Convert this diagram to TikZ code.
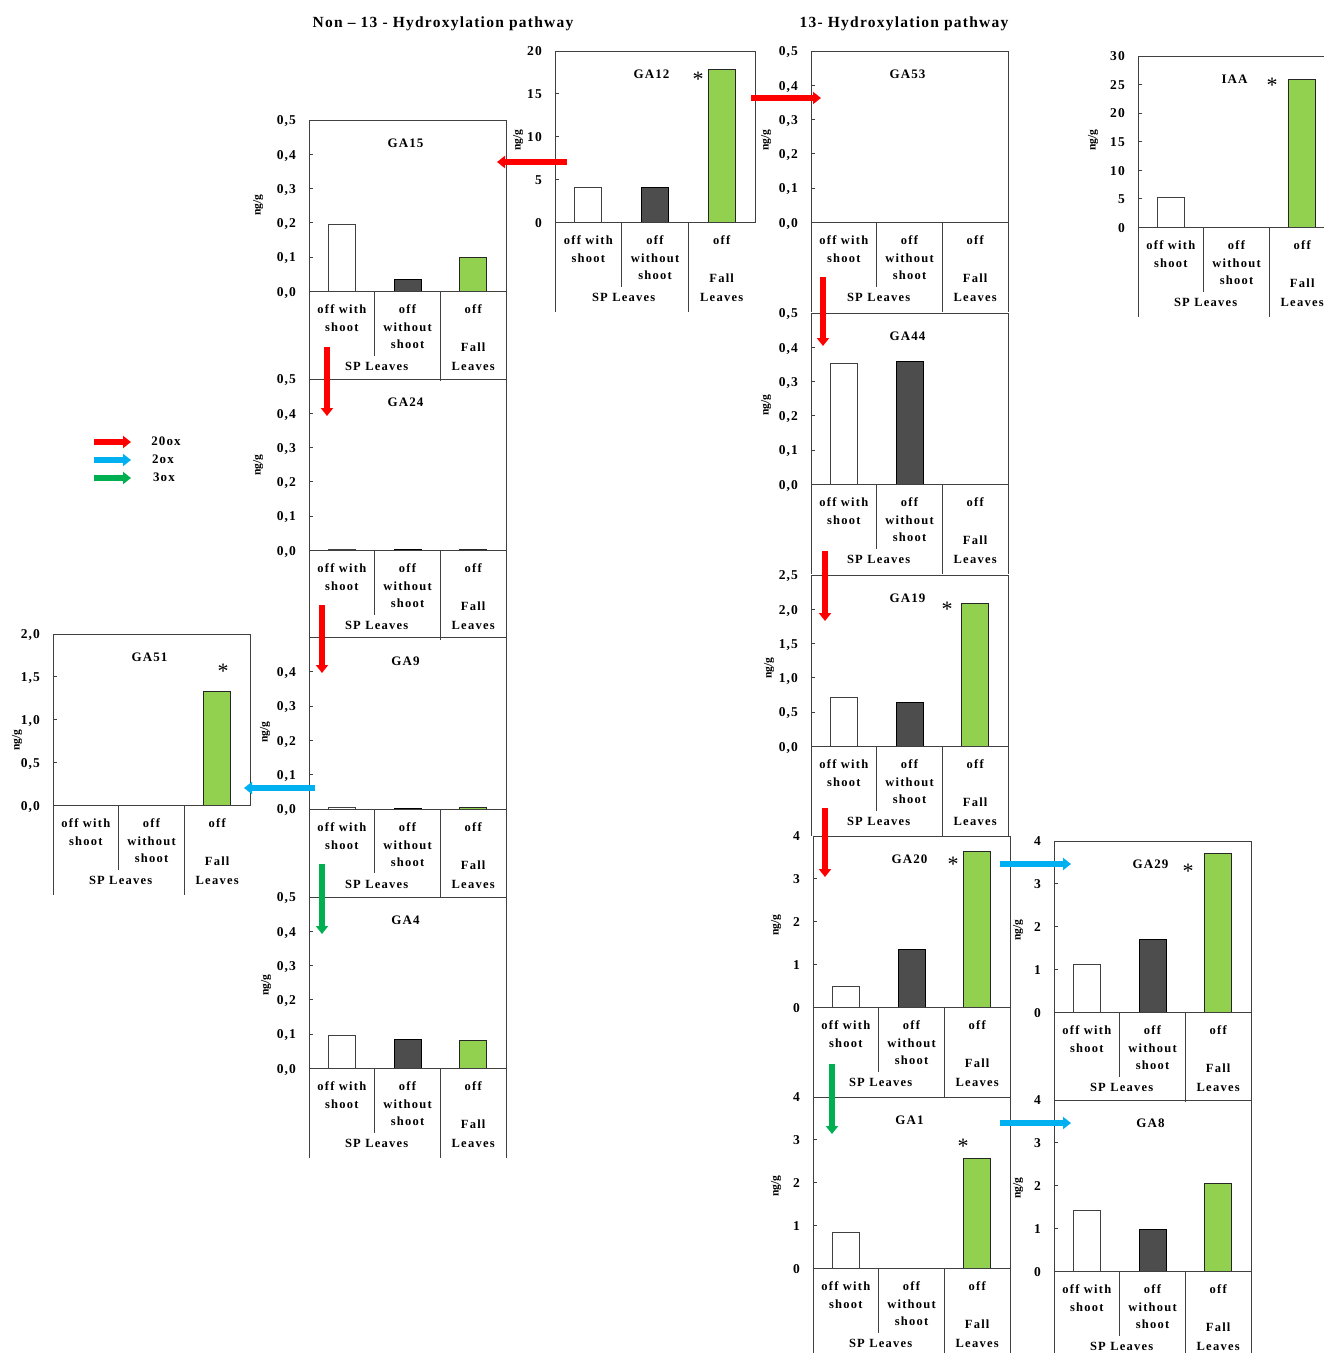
\documentclass[tikz,border=0pt]{standalone}
\usepackage{fontspec}
\setmainfont{Liberation Serif}
\newfontfamily\lsA{Liberation Serif}[LetterSpace=10,Ligatures=NoCommon]
\newfontfamily\lsB{Liberation Serif}[LetterSpace=8,Ligatures=NoCommon]
\usetikzlibrary{arrows.meta}
\definecolor{gagreen}{HTML}{92D050}
\definecolor{gadark}{HTML}{4D4D4D}
\definecolor{arrred}{HTML}{FF0000}
\definecolor{arrblue}{HTML}{00B0F0}
\definecolor{arrgreen}{HTML}{00B050}
\definecolor{frm}{HTML}{404040}
\tikzset{
 frame/.style={draw=frm, line width=1pt},
 cat/.style={font=\lsA\bfseries\fontsize{12.5}{13}\selectfont, inner sep=0pt},
 ticklab/.style={font=\lsB\bfseries\fontsize{13.5}{14}\selectfont, inner sep=0pt, anchor=base east},
 gatitle/.style={font=\lsB\bfseries\fontsize{13}{14}\selectfont, inner sep=0pt},
 unitlab/.style={font=\bfseries\fontsize{11.5}{12}\selectfont, inner sep=0pt, rotate=90},
 star/.style={font=\fontsize{22}{22}\selectfont, inner sep=0pt, anchor=north},
 barw/.style={fill=white, draw=frm, line width=0.8pt},
 bard/.style={fill=gadark, draw=black, line width=0.8pt},
 barg/.style={fill=gagreen, draw=black!85, line width=0.8pt},
 fat/.style={line width=5.5pt, -{Triangle[width=12pt,length=8pt]}},
 header/.style={font=\lsB\bfseries\fontsize{15.5}{16}\selectfont, inner sep=0pt, anchor=base},
 legtext/.style={font=\lsB\bfseries\fontsize{13}{14}\selectfont, inner sep=0pt},
}
\newif\ifgaright \garighttrue
\def\gaW{197}
\def\gaH{171.5}
\def\gaT{89}
\newcommand\gabar[3]{%
  \pgfmathsetmacro\gabh{#2}%
  \ifdim\gabh pt>0.01pt
    \draw[#3] ({#1-13.5},\gaH) rectangle ({#1+13.5},{\gaH-\gabh});
  \fi}
\newcommand\gachart[9]{%
 \begin{scope}[shift={(#2,#3)}]
  \gabar{\gaW/6}{#7/#6*\gaH}{barw}
  \gabar{\gaW/2}{#8/#6*\gaH}{bard}
  \gabar{5*\gaW/6}{#9/#6*\gaH}{barg}
  \draw[frame] (0,0) rectangle (\gaW,\gaH);
  \coordinate (#1) at ({\gaW/2},{\gaH/2});
  \draw[frame] (0,\gaH) -- (0,{\gaH+\gaT});
  \draw[frame] ({\gaW/3},\gaH) -- ({\gaW/3},{\gaH+64});
  \draw[frame] ({2*\gaW/3},\gaH) -- ({2*\gaW/3},{\gaH+\gaT});
  \ifgaright\draw[frame] (\gaW,\gaH) -- (\gaW,{\gaH+\gaT});\fi
  \foreach \l [count=\i from 0] in {#5} {
    \draw[frame] (0,{\gaH-\i*\gaH/#4}) -- ++(4,0);
    \node[ticklab] (#1-t\i) at (-13,{\gaH-\i*\gaH/#4+4.7}) {\l};
  }
  \node[gatitle] (#1-title) at (96.5,23.5) {#1};
  \node[cat] (#1-c1a) at ({\gaW/6},{\gaH+18}) {off with};
  \node[cat] (#1-c1b) at ({\gaW/6},{\gaH+36}) {shoot};
  \node[cat] (#1-c2a) at ({\gaW/2},{\gaH+18}) {off};
  \node[cat] (#1-c2b) at ({\gaW/2},{\gaH+36}) {without};
  \node[cat] (#1-c2c) at ({\gaW/2},{\gaH+53}) {shoot};
  \node[cat] (#1-c3a) at ({5*\gaW/6},{\gaH+18}) {off};
  \node[cat] (#1-c3b) at ({5*\gaW/6},{\gaH+56}) {Fall};
  \node[cat] (#1-c3c) at ({5*\gaW/6},{\gaH+75}) {Leaves};
  \node[cat] (#1-sp) at ({\gaW/3+2},{\gaH+75}) {SP Leaves};
 \end{scope}}
\begin{document}
\begin{tikzpicture}[x=1pt,y=-1pt]
\fill[white] (0,0) rectangle (1324,1353);
\useasboundingbox (0,0) rectangle (1324,1353);
\clip (0,0) rectangle (1324,1353);
% headers
\node[header] (h1) at (443,27) {Non – 13 - Hydroxylation pathway};
\node[header] (h2) at (904,27) {13- Hydroxylation pathway};
% left column
\gachart{GA15}{309}{120}{5}{{0,0},{0,1},{0,2},{0,3},{0,4},{0,5}}{0.5}{0.196}{0.035}{0.099}
\gachart{GA24}{309}{379}{5}{{0,0},{0,1},{0,2},{0,3},{0,4},{0,5}}{0.5}{0.004}{0.003}{0.004}
\gachart{GA9}{309}{637.5}{5}{{0,0},{0,1},{0,2},{0,3},{0,4}}{0.5}{0.005}{0.003}{0.005}
\gachart{GA4}{309}{897}{5}{{0,0},{0,1},{0,2},{0,3},{0,4},{0,5}}{0.5}{0.096}{0.084}{0.081}
\garightfalse
\def\gaW{200}
\gachart{GA12}{555}{51}{4}{0,5,10,15,20}{20}{4.07}{4.07}{17.9}
\def\gaW{197}
\gachart{GA51}{53}{634}{4}{{0,0},{0,5},{1,0},{1,5},{2,0}}{2}{0}{0}{1.33}
\garighttrue
% right columns
\gachart{GA53}{811}{51}{5}{{0,0},{0,1},{0,2},{0,3},{0,4},{0,5}}{0.5}{0}{0}{0}
\gachart{GA44}{811}{313}{5}{{0,0},{0,1},{0,2},{0,3},{0,4},{0,5}}{0.5}{0.352}{0.358}{0}
\gachart{GA19}{811}{575}{5}{{0,0},{0,5},{1,0},{1,5},{2,0},{2,5}}{2.5}{0.72}{0.645}{2.08}
\gachart{GA20}{813}{836}{4}{0,1,2,3,4}{4}{0.49}{1.36}{3.65}
\gachart{GA1}{813}{1097}{4}{0,1,2,3,4}{4}{0.84}{0}{2.58}
\gachart{GA29}{1054}{841}{4}{0,1,2,3,4}{4}{1.12}{1.71}{3.72}
\gachart{GA8}{1054}{1100}{4}{0,1,2,3,4}{4}{1.43}{0.98}{2.06}
\gachart{IAA}{1138}{56}{6}{0,5,10,15,20,25,30}{30}{5.26}{0}{25.96}
% unit labels
\node[unitlab] (u15) at (258,205) {ng/g};
\node[unitlab] (u24) at (258,465) {ng/g};
\node[unitlab] (u9) at (265,732) {ng/g};
\node[unitlab] (u4) at (266,985) {ng/g};
\node[unitlab] (u12) at (518,140) {ng/g};
\node[unitlab] (u51) at (17,740) {ng/g};
\node[unitlab] (u53) at (766,140) {ng/g};
\node[unitlab] (u44) at (766,405) {ng/g};
\node[unitlab] (u19) at (769,668) {ng/g};
\node[unitlab] (u20) at (776,925) {ng/g};
\node[unitlab] (u1) at (776,1186) {ng/g};
\node[unitlab] (u29) at (1018,930) {ng/g};
\node[unitlab] (u8) at (1018,1188) {ng/g};
\node[unitlab] (uIAA) at (1093,140) {ng/g};
% asterisks
\node[star] (s12) at (698,72) {*};
\node[star] (s51) at (223,664) {*};
\node[star] (sIAA) at (1272,78) {*};
\node[star] (s19) at (947,602) {*};
\node[star] (s20) at (953,857) {*};
\node[star] (s1) at (963,1139) {*};
\node[star] (s29) at (1188,864) {*};
% arrow end points
\coordinate (a1s) at (567,162);  \coordinate (a1e) at (497,162);
\coordinate (a2s) at (751,98);   \coordinate (a2e) at (821,98);
\coordinate (a3s) at (327,347);  \coordinate (a3e) at (327,416);
\coordinate (a4s) at (322,605);  \coordinate (a4e) at (322,673);
\coordinate (a5s) at (322,864);  \coordinate (a5e) at (322,934);
\coordinate (a6s) at (315,788);  \coordinate (a6e) at (244,788);
\coordinate (a7s) at (823,277);  \coordinate (a7e) at (823,346);
\coordinate (a8s) at (825,551);  \coordinate (a8e) at (825,621);
\coordinate (a9s) at (825,808);  \coordinate (a9e) at (825,877);
\coordinate (a10s) at (1000,864); \coordinate (a10e) at (1071,864);
\coordinate (a11s) at (832,1064); \coordinate (a11e) at (832,1134);
\coordinate (a12s) at (1000,1123); \coordinate (a12e) at (1071,1123);
\draw[fat,arrred] (a1s) -- (a1e);
\draw[fat,arrred] (a2s) -- (a2e);
\draw[fat,arrred] (a3s) -- (a3e);
\draw[fat,arrred] (a4s) -- (a4e);
\draw[fat,arrgreen] (a5s) -- (a5e);
\draw[fat,arrblue] (a6s) -- (a6e);
\draw[fat,arrred] (a7s) -- (a7e);
\draw[fat,arrred] (a8s) -- (a8e);
\draw[fat,arrred] (a9s) -- (a9e);
\draw[fat,arrblue] (a10s) -- (a10e);
\draw[fat,arrgreen] (a11s) -- (a11e);
\draw[fat,arrblue] (a12s) -- (a12e);
% legend
\coordinate (l1s) at (94,442); \coordinate (l1e) at (131,442);
\coordinate (l2s) at (94,460); \coordinate (l2e) at (131,460);
\coordinate (l3s) at (94,478); \coordinate (l3e) at (131,478);
\draw[fat,arrred] (l1s) -- (l1e);
\draw[fat,arrblue] (l2s) -- (l2e);
\draw[fat,arrgreen] (l3s) -- (l3e);
\node[legtext] (lt1) at (166,441) {20ox};
\node[legtext] (lt2) at (163,459) {2ox};
\node[legtext] (lt3) at (164,477) {3ox};
\end{tikzpicture}
\end{document}
